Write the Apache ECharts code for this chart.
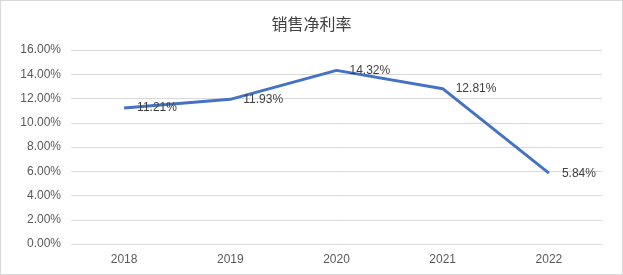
<!DOCTYPE html>
<html>
<head>
<meta charset="utf-8">
<script src="https://cdn.jsdelivr.net/npm/echarts@6/dist/echarts.min.js"></script>
<style>
  html, body { margin: 0; padding: 0; background: #fff; }
  #main { width: 621px; height: 273px; border: 1px solid #d9d9d9; }
</style>
</head>
<body>
<div id="main"></div>
<script>
// 年份
const years = ['2018', '2019', '2020', '2021', '2022'];
// 销售净利率 (%)
const netMargin = [11.21, 11.93, 14.32, 12.81, 5.84];
// y轴范围
const yMin = 0, yMax = 16, yStep = 2;

const chart = echarts.init(document.getElementById('main'));
chart.setOption({
    animation: false,
    title: {
        text: '销售净利率',
        left: 'center',
        top: 10,
        textStyle: {
            fontFamily: 'Noto Sans CJK SC',
            fontSize: 16,
            fontWeight: 'normal',
            color: '#404040'
        }
    },
    grid: { left: 70, right: 20, top: 49, bottom: 30 },
    xAxis: {
        type: 'category',
        data: years,
        boundaryGap: true,
        axisLine: { show: false },
        axisTick: { show: false },
        axisLabel: { color: '#595959', fontSize: 12, fontFamily: 'Liberation Sans', margin: 10 }
    },
    yAxis: {
        type: 'value',
        min: yMin,
        max: yMax,
        interval: yStep,
        axisLabel: {
            color: '#595959',
            fontSize: 12,
            fontFamily: 'Liberation Sans',
            margin: 10,
            formatter: v => v.toFixed(2) + '%'
        },
        splitLine: { lineStyle: { color: '#d9d9d9', width: 1 } }
    },
    series: [{
        type: 'line',
        data: netMargin,
        showSymbol: true,
        symbol: 'circle',
        symbolSize: 2,
        itemStyle: { color: 'rgba(0,0,0,0)' },
        lineStyle: { color: '#4472C4', width: 3 },
        label: {
            show: true,
            position: 'right',
            distance: 12,
            color: '#404040',
            fontSize: 12,
            fontFamily: 'Liberation Sans',
            formatter: p => p.value.toFixed(2) + '%'
        }
    }]
});
</script>
</body>
</html>
